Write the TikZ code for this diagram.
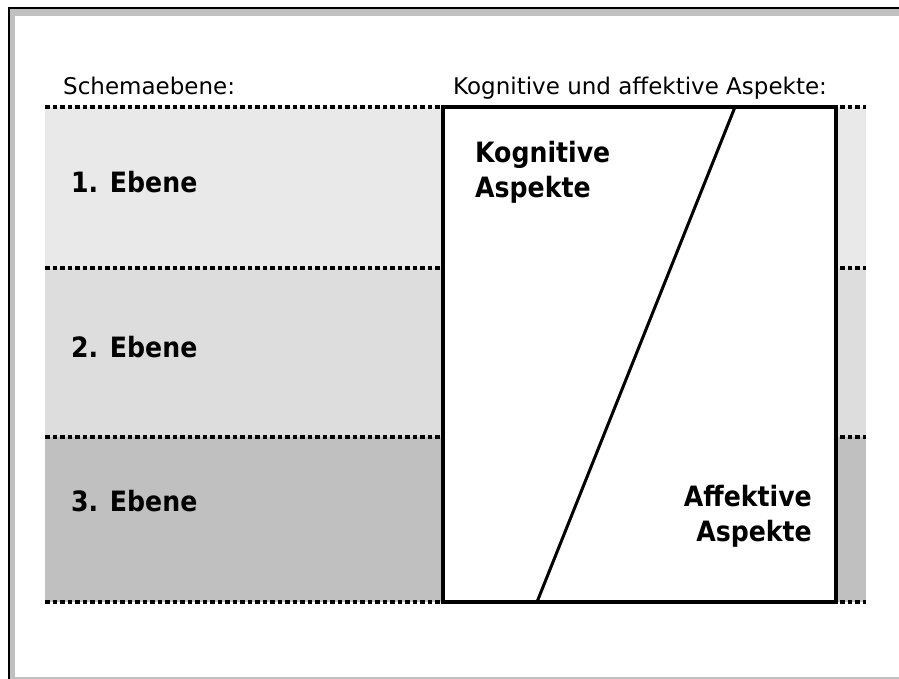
\documentclass[tikz,border=0pt]{standalone}
\usepackage{fontspec}
\setmainfont{DejaVu Sans Condensed}
\newfontfamily\kopfschrift{DejaVu Sans}
\definecolor{ebeneeins}{HTML}{E9E9E9}
\definecolor{ebenezwei}{HTML}{DDDDDD}
\definecolor{ebenedrei}{HTML}{C0C0C0}
\begin{document}
\begin{tikzpicture}[x=1pt,y=-1pt,
  kopf/.style={inner sep=0pt, font=\kopfschrift\fontsize{23}{28}\selectfont},
  ebene/.style={inner sep=0pt, font=\fontsize{28}{35}\selectfont\bfseries},
  trenn/.style={line width=3.2pt, dash pattern=on 4.5pt off 3pt}]
\useasboundingbox (0,0) rectangle (899,679);
\fill[ebenedrei] (9,8) rectangle (899,679);
\fill[white] (15,16) rectangle (899,677);
\draw[line width=1.2pt] (9,679) -- (9,8) -- (899,8);

\fill[ebeneeins] (45,107) rectangle (866,268);
\fill[ebenezwei] (45,268) rectangle (866,437);
\fill[ebenedrei] (45,437) rectangle (866,602);
\foreach \y in {107,268,437,602}
  \draw[trenn] (45,\y) -- (866,\y);

\coordinate (boxlo) at (443,107);
\coordinate (boxru) at (836,602);
\coordinate (diagoben) at (735,107);
\coordinate (diagunten) at (537,602);
\draw[line width=3.5pt, fill=white] (boxlo) rectangle (boxru);
\draw[line width=3pt] (diagoben) -- (diagunten);

\node[kopf, anchor=base west] (schema) at (63,95) {Schemaebene:};
\node[kopf, anchor=base west] (aspekte) at (453,95) {Kognitive und affektive Aspekte:};
\node[ebene, anchor=base west] (e1) at (71,193) {1. Ebene};
\node[ebene, anchor=base west] (e2) at (71,357) {2. Ebene};
\node[ebene, anchor=base west] (e3) at (71,511) {3. Ebene};
\node[ebene, anchor=base west, align=left] (kog) at (475,197) {Kognitive\\Aspekte};
\node[ebene, anchor=base east, align=right] (aff) at (812,541) {Affektive\\Aspekte};
\end{tikzpicture}
\end{document}
